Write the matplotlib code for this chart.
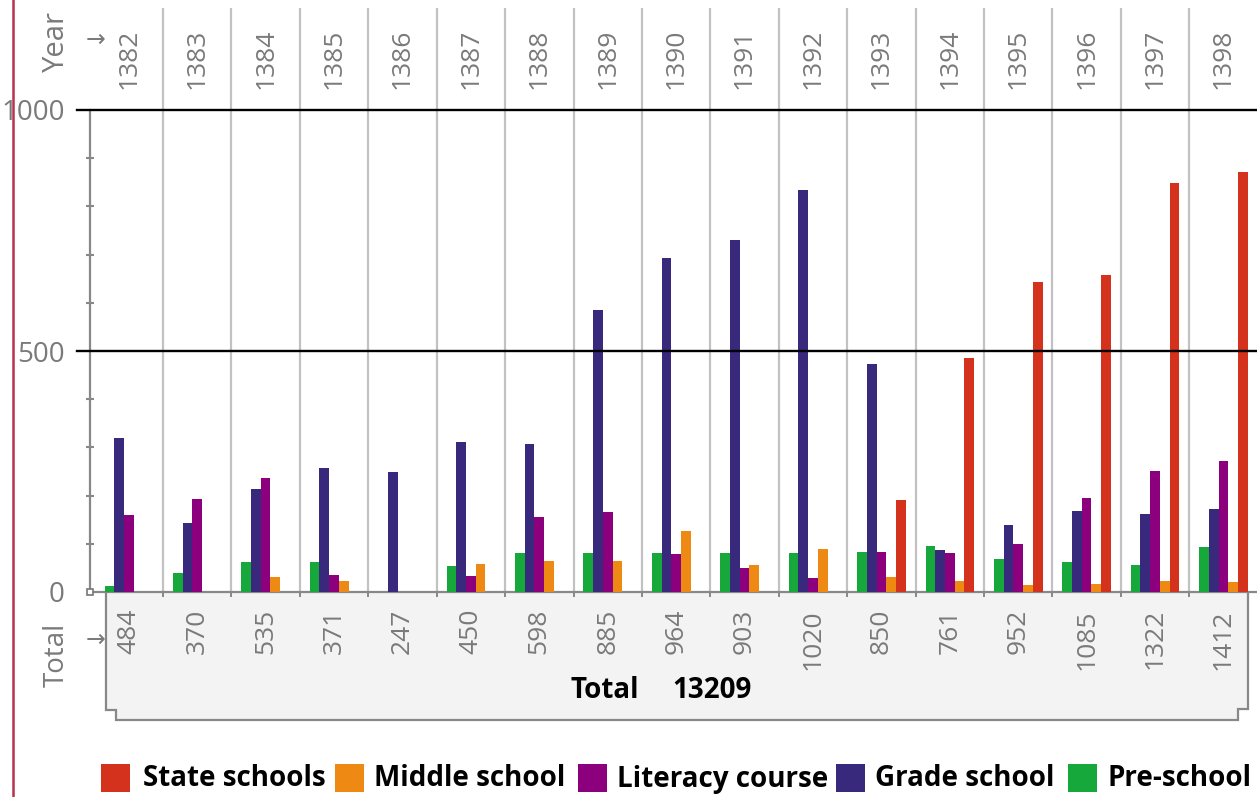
import numpy as np
import matplotlib.pyplot as plt
from matplotlib.patches import Polygon, Rectangle
from matplotlib.lines import Line2D
from matplotlib.ticker import MultipleLocator
import matplotlib.transforms as mtransforms

# data
years = [1382, 1383, 1384, 1385, 1386, 1387, 1388, 1389, 1390,
         1391, 1392, 1393, 1394, 1395, 1396, 1397, 1398]
pre_school = [12, 40, 63, 63, 0, 54, 81, 81, 81, 81, 81, 84, 96, 68, 62, 57, 94]
grade_school = [319, 144, 213, 257, 250, 312, 307, 585, 692, 731, 834, 474, 88, 140, 169, 162, 173]
literacy_course = [159, 193, 237, 35, 0, 33, 155, 166, 79, 49, 30, 82, 81, 99, 195, 252, 272]
middle_school = [0, 0, 31, 23, 0, 59, 64, 64, 126, 55, 90, 32, 23, 15, 17, 23, 20]
state_schools = [0, 0, 0, 0, 0, 0, 0, 0, 0, 0, 0, 190, 485, 644, 657, 848, 872]
totals = [484, 370, 535, 371, 247, 450, 598, 885, 964, 903, 1020, 850, 761, 952, 1085, 1322, 1412]

series = [
    ("Pre-school", pre_school, "#16a83a"),
    ("Grade school", grade_school, "#39297d"),
    ("Literacy course", literacy_course, "#8c007d"),
    ("Middle school", middle_school, "#ee8a14"),
    ("State schools", state_schools, "#d5321e"),
]

W, H = 1257, 797
GRAY = "#7a7a7a"
FONT = ["Open Sans", "DejaVu Sans"]
plt.rcParams["font.family"] = FONT

fig = plt.figure(figsize=(W / 100, H / 100), dpi=100)
fig.patch.set_facecolor("white")

def fx(px):
    return px / W

def fy(py):
    return 1 - py / H

# axes: y axis at x=90px, baseline at y=592px, 1000 at y=110px
ax = fig.add_axes([fx(90), fy(592), 1 - fx(90), fy(110) - fy(592)])
ax.set_ylim(0, 1000)
xmin, xmax = -0.567, 16.49
ax.set_xlim(xmin, xmax)
px_per_unit = 482 / 1000.0
x = np.arange(len(years))

bw = 0.142
for k, (name, vals, col) in enumerate(series):
    ax.bar(x + (k - 2) * bw, vals, width=bw, color=col, linewidth=0, zorder=3)

# spines and ticks
for s in ["top", "right"]:
    ax.spines[s].set_visible(False)
for s in ["left", "bottom"]:
    ax.spines[s].set_color("#888888")
    ax.spines[s].set_linewidth(1.6)

ax.set_yticks([0, 500, 1000])
ax.set_yticklabels(["0", "500", "1000"])
ax.yaxis.set_minor_locator(MultipleLocator(100))
ax.tick_params(axis="y", which="major", length=0, pad=18, labelsize=20, labelcolor=GRAY)
ax.tick_params(axis="y", which="minor", direction="inout", length=6, width=1.5, color="#888888")

seps = np.arange(len(years) - 1) + 0.5
ax.set_xticks(seps)
ax.set_xticklabels([])
ax.tick_params(axis="x", which="major", direction="out", length=3.5, width=1.4, color="#888888")

# vertical separators up through the header
top_val = (592 - 8) / px_per_unit
ax.vlines(seps, 0, top_val, colors="#c2c2c2", linewidth=1.6, clip_on=False, zorder=1)

# black reference lines at 500 and 1000, extended a bit left of the axis
left_ext = xmin - 13 / 68.4
for v in [500, 1000]:
    ax.plot([left_ext, xmax], [v, v], color="black", linewidth=1.7, clip_on=False, zorder=4)

# small square at origin
ax.plot([xmin], [0], marker="s", ms=5, mfc="white", mec="#777777", mew=1.2,
        clip_on=False, zorder=6)

trans = mtransforms.blended_transform_factory(ax.transData, fig.transFigure)

# year labels in header
for xi, yr in zip(x, years):
    ax.text(xi, fy(89), str(yr), transform=trans, rotation=90, ha="center", va="bottom",
            fontsize=19, color=GRAY, clip_on=False)

fig.text(fx(56), fy(42), "Year", rotation=90, ha="center", va="center", fontsize=21, color=GRAY)
fig.text(fx(96), fy(40), "\u2192", ha="center", va="center", fontsize=17, color=GRAY,
         family="DejaVu Sans")

# totals box
box_pts = [(106, 593), (106, 710), (116, 710), (116, 720), (1238, 720),
           (1238, 709), (1248, 709), (1248, 593)]
box = Polygon([(fx(a), fy(b)) for a, b in box_pts], closed=False, transform=fig.transFigure,
              facecolor="#f3f3f3", edgecolor="#888888", linewidth=1.6, zorder=0)
fig.add_artist(box)

for xi, t in zip(x, totals):
    ax.text(xi, fy(609), str(t), transform=trans, rotation=90, ha="center", va="top",
            fontsize=19, color=GRAY, clip_on=False)

fig.text(fx(57), fy(655), "Total", rotation=90, ha="center", va="center", fontsize=20, color=GRAY)
fig.text(fx(96), fy(640), "\u2192", ha="center", va="center", fontsize=17, color=GRAY,
         family="DejaVu Sans")

grand_total = sum(totals)
fig.text(fx(639), fy(691), "Total", ha="right", va="center", fontsize=20,
         fontweight="bold", color="black")
fig.text(fx(672), fy(691), str(grand_total), ha="left", va="center", fontsize=20,
         fontweight="bold", color="black")

# legend drawn by hand
legend_items = [("State schools", "#d5321e", 101, 143),
                ("Middle school", "#ee8a14", 335, 374),
                ("Literacy course", "#8c007d", 578, 617),
                ("Grade school", "#39297d", 836, 875),
                ("Pre-school", "#16a83a", 1068, 1108)]
for label, col, sx, tx in legend_items:
    fig.add_artist(Rectangle((fx(sx), fy(792)), 29 / W, 28 / H, transform=fig.transFigure,
                             facecolor=col, edgecolor="none"))
    fig.text(fx(tx), fy(779), label, ha="left", va="center", fontsize=20,
             fontweight="bold", color="black")

# red page border on the left
fig.add_artist(Line2D([fx(13.5), fx(13.5)], [0, 1], transform=fig.transFigure,
                      color="#b8324f", linewidth=1.8, zorder=10))

fig.savefig("out.png", dpi=100)
